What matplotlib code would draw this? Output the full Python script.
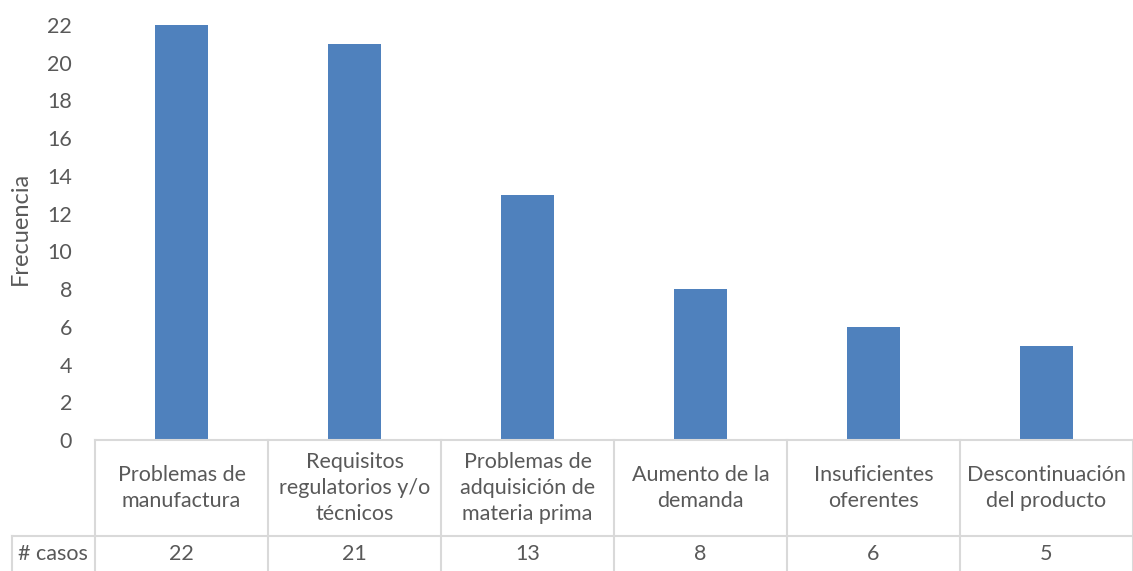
import matplotlib
matplotlib.use("Agg")
import matplotlib.pyplot as plt
from matplotlib.lines import Line2D

categorias = [
    "Problemas de\nmanufactura",
    "Requisitos\nregulatorios y/o\ntécnicos",
    "Problemas de\nadquisición de\nmateria prima",
    "Aumento de la\ndemanda",
    "Insuficientes\noferentes",
    "Descontinuación\ndel producto",
]
casos = [22, 21, 13, 8, 6, 5]
yticks = list(range(0, 23, 2))
fila_titulo = "# casos"

W, H = 1133, 571
plt.rcParams["font.family"] = ["Lato", "DejaVu Sans"]
texto = "#595959"
borde = "#d9d9d9"
fs = 15.5

fig = plt.figure(figsize=(W / 100, H / 100), dpi=100)

x0, x1 = 95, 1133
y_base, y_top = 440, 25
ax = fig.add_axes([x0 / W, (H - y_base) / H, (x1 - x0) / W, (y_base - y_top) / H])
pos = list(range(len(casos)))
ax.bar(pos, casos, width=0.31, color="#4F81BD")
ax.set_xlim(-0.5, len(casos) - 0.5)
ax.set_ylim(0, 22)
ax.set_yticks(yticks)
ax.tick_params(axis="y", length=0, labelsize=fs, labelcolor=texto, pad=16.5)
ax.set_xticks([])
for s in ax.spines.values():
    s.set_visible(False)

fig.text(20 / W, (H - 228) / H, "Frecuencia", rotation=90, ha="center", va="center",
         fontsize=17, color=texto)

# data table below the plot
def fx(px):
    return px / W

def fy(py):
    return (H - py) / H

def linea(xa, ya, xb, yb):
    fig.add_artist(Line2D([fx(xa), fx(xb)], [fy(ya), fy(yb)], color=borde, lw=1.5,
                          transform=fig.transFigure))

row1_top, row2_top, bottom = 440, 536, 571
col_w = (x1 - x0) / len(casos)
linea(x0, row1_top, x1, row1_top)
linea(12, row2_top, x1, row2_top)
linea(12, row2_top, 12, bottom)
for i in range(len(casos) + 1):
    xc = x0 + i * col_w
    linea(xc, row1_top, xc, bottom)

for i, (cat, v) in enumerate(zip(categorias, casos)):
    xc = x0 + (i + 0.5) * col_w
    fig.text(fx(xc), fy((row1_top + row2_top) / 2), cat, ha="center", va="center",
             fontsize=fs, color=texto, linespacing=1.38)
    fig.text(fx(xc), fy(554), str(v), ha="center", va="center", fontsize=fs, color=texto)

fig.text(fx(53), fy(554), fila_titulo, ha="center", va="center", fontsize=fs, color=texto)

fig.savefig("out.png", dpi=100)
